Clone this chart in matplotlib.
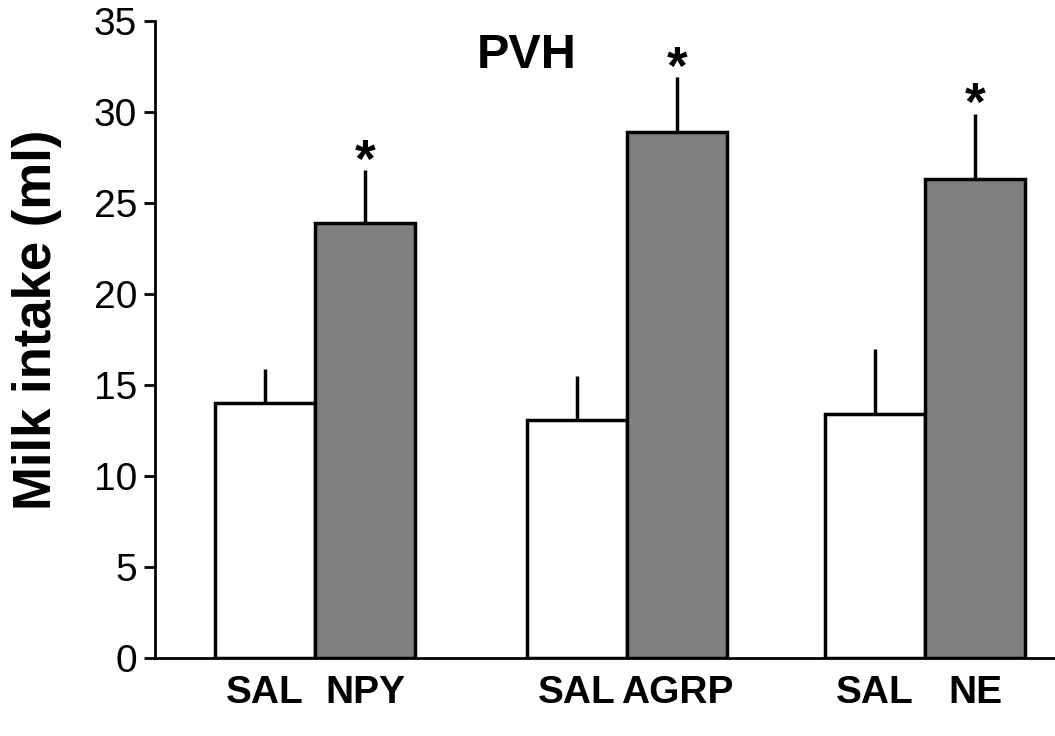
import matplotlib.pyplot as plt
import numpy as np

plt.rcParams['font.family'] = ['Liberation Sans', 'DejaVu Sans']

# Milk intake (ml)
labels = ['SAL', 'NPY', 'SAL', 'AGRP', 'SAL', 'NE']
means = [14.0, 23.9, 13.1, 28.9, 13.4, 26.3]
sem = [1.9, 2.9, 2.4, 3.0, 3.6, 3.6]
is_drug = [False, True, False, True, False, True]

# bar positions (two bars per group, gap between groups)
pos = np.array([1.1, 2.1, 4.22, 5.22, 7.2, 8.2])
colors = ['#808080' if d else 'white' for d in is_drug]

fig = plt.figure(figsize=(10.55, 7.36), dpi=100)
ax = fig.add_axes([0.147, 0.106, 0.853, 0.8655])

ax.bar(pos, means, width=1.0, color=colors, edgecolor='black', linewidth=2.5, zorder=3)
ax.errorbar(pos, means, yerr=[np.zeros(len(sem)), sem], fmt='none', ecolor='black',
            elinewidth=2.5, capsize=0, zorder=2)

# significance stars above drug bars
for x, m, s, d in zip(pos, means, sem, is_drug):
    if d:
        ax.text(x, m + s - 0.35, '*', ha='center', va='baseline', fontsize=38,
                fontweight='bold')

ax.set_xlim(0, 9)
ax.set_ylim(0, 35)
ax.set_yticks(np.arange(0, 36, 5))
ax.set_xticks(pos)
ax.set_xticklabels(labels, fontsize=28, fontweight='bold')
ax.tick_params(axis='x', length=0, pad=12)
ax.tick_params(axis='y', labelsize=28, length=8, width=2, direction='out', pad=5)

for side in ['top', 'right']:
    ax.spines[side].set_visible(False)
ax.spines['left'].set_linewidth(2)
ax.spines['bottom'].set_linewidth(2)

ax.set_ylabel('Milk intake (ml)', fontsize=38, fontweight='bold')
ax.yaxis.set_label_coords(-0.103, 0.531)
ax.text(3.72, 33.1, 'PVH', ha='center', va='center', fontsize=35, fontweight='bold')

plt.savefig('out.png', dpi=100)
